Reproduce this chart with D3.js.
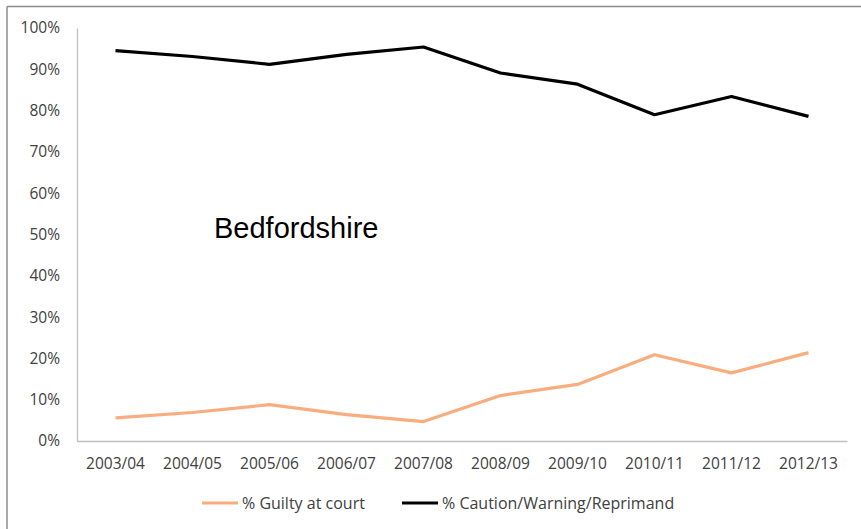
<!DOCTYPE html>
<html>
<head>
<meta charset="utf-8">
<script src="https://cdn.jsdelivr.net/npm/d3@7"></script>
<style>
  body { margin: 0; background: #fff; }
  text { font-family: "Open Sans", sans-serif; }
  .axis text { fill: #404040; font-size: 15.5px; }
  .axis path { stroke: #bfbfbf; }
</style>
</head>
<body>
<div id="chart"></div>
<script>
const years = ['2003/04', '2004/05', '2005/06', '2006/07', '2007/08',
               '2008/09', '2009/10', '2010/11', '2011/12', '2012/13'];
const guilty = [5.6, 6.9, 8.8, 6.4, 4.7, 11.0, 13.7, 20.9, 16.5, 21.4];
const caution = [94.5, 93.1, 91.2, 93.6, 95.4, 89.1, 86.4, 79.0, 83.4, 78.6];
const yTicks = [0, 10, 20, 30, 40, 50, 60, 70, 80, 90, 100];
const seriesNames = ['% Guilty at court', '% Caution/Warning/Reprimand'];
const seriesColors = ['#f9ad7f', '#000000'];

const width = 861;
const height = 529;
const margin = { top: 28, right: 14, bottom: 88, left: 77 };
const innerW = width - margin.left - margin.right;
const innerH = height - margin.top - margin.bottom;

const svg = d3.select('#chart')
    .append('svg')
    .attr('width', width)
    .attr('height', height);

// outer chart frame (only top and left edges show)
svg.append('line')
    .attr('x1', 7).attr('y1', 6.5).attr('x2', width).attr('y2', 6.5)
    .attr('stroke', '#8c8c8c').attr('stroke-width', 1.5);
svg.append('line')
    .attr('x1', 7).attr('y1', 6.5).attr('x2', 7).attr('y2', height)
    .attr('stroke', '#8c8c8c').attr('stroke-width', 1.5);

const g = svg.append('g')
    .attr('transform', `translate(${margin.left},${margin.top})`);

const x = d3.scaleBand()
    .domain(years)
    .range([0, innerW]);

const y = d3.scaleLinear()
    .domain([0, 100])
    .range([innerH, 0]);

// Y axis
g.append('g')
    .attr('class', 'axis')
    .call(d3.axisLeft(y)
        .tickValues(yTicks)
        .tickFormat(d => d + '%')
        .tickSize(0)
        .tickPadding(17))
    .call(a => a.select('.domain').attr('stroke-width', 1.3));

// X axis
g.append('g')
    .attr('class', 'axis')
    .attr('transform', `translate(0,${innerH})`)
    .call(d3.axisBottom(x)
        .tickSize(0)
        .tickPadding(17))
    .call(a => a.select('.domain').attr('stroke-width', 1.3));

const line = d3.line()
    .x((d, i) => x(years[i]) + x.bandwidth() / 2)
    .y(d => y(d));

[guilty, caution].forEach((vals, i) => {
    g.append('path')
        .datum(vals)
        .attr('fill', 'none')
        .attr('stroke', seriesColors[i])
        .attr('stroke-width', 3.2)
        .attr('stroke-linejoin', 'round')
        .attr('d', line);
});

// Region label
svg.append('text')
    .attr('x', 214)
    .attr('y', 238)
    .style('font-family', '"Liberation Sans", Arial, sans-serif')
    .style('font-size', '29px')
    .attr('fill', '#000')
    .text('Bedfordshire');

// Legend
const legendX = [202, 402];
seriesNames.forEach((name, i) => {
    const lg = svg.append('g')
        .attr('transform', `translate(${legendX[i]},503)`);
    lg.append('line')
        .attr('x1', 0).attr('x2', 36)
        .attr('stroke', seriesColors[i])
        .attr('stroke-width', 3.2);
    lg.append('text')
        .attr('x', 40)
        .attr('dy', '0.36em')
        .attr('fill', '#404040')
        .style('font-size', '16px')
        .text(name);
});
</script>
</body>
</html>
